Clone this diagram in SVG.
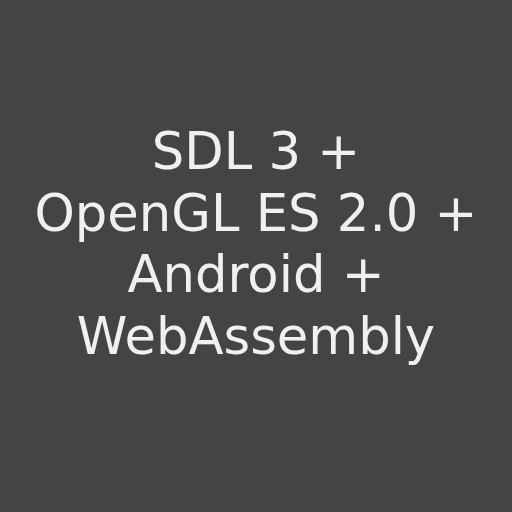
<svg xmlns="http://www.w3.org/2000/svg" width="512" height="512" viewBox="0 0 512 512">
<style>
.t{font-family:"DejaVu Sans",sans-serif;font-size:51.2px;fill:#f0f0f0;text-anchor:middle}
</style>
<rect width="512" height="512" fill="#444444"/>
<g id="title">
<text class="t" x="256" y="169">SDL 3 +</text>
<text class="t" x="256" y="230.5">OpenGL ES 2.0 +</text>
<text class="t" x="256" y="292">Android +</text>
<text class="t" x="256" y="353.5">WebAssembly</text>
</g>
</svg>
